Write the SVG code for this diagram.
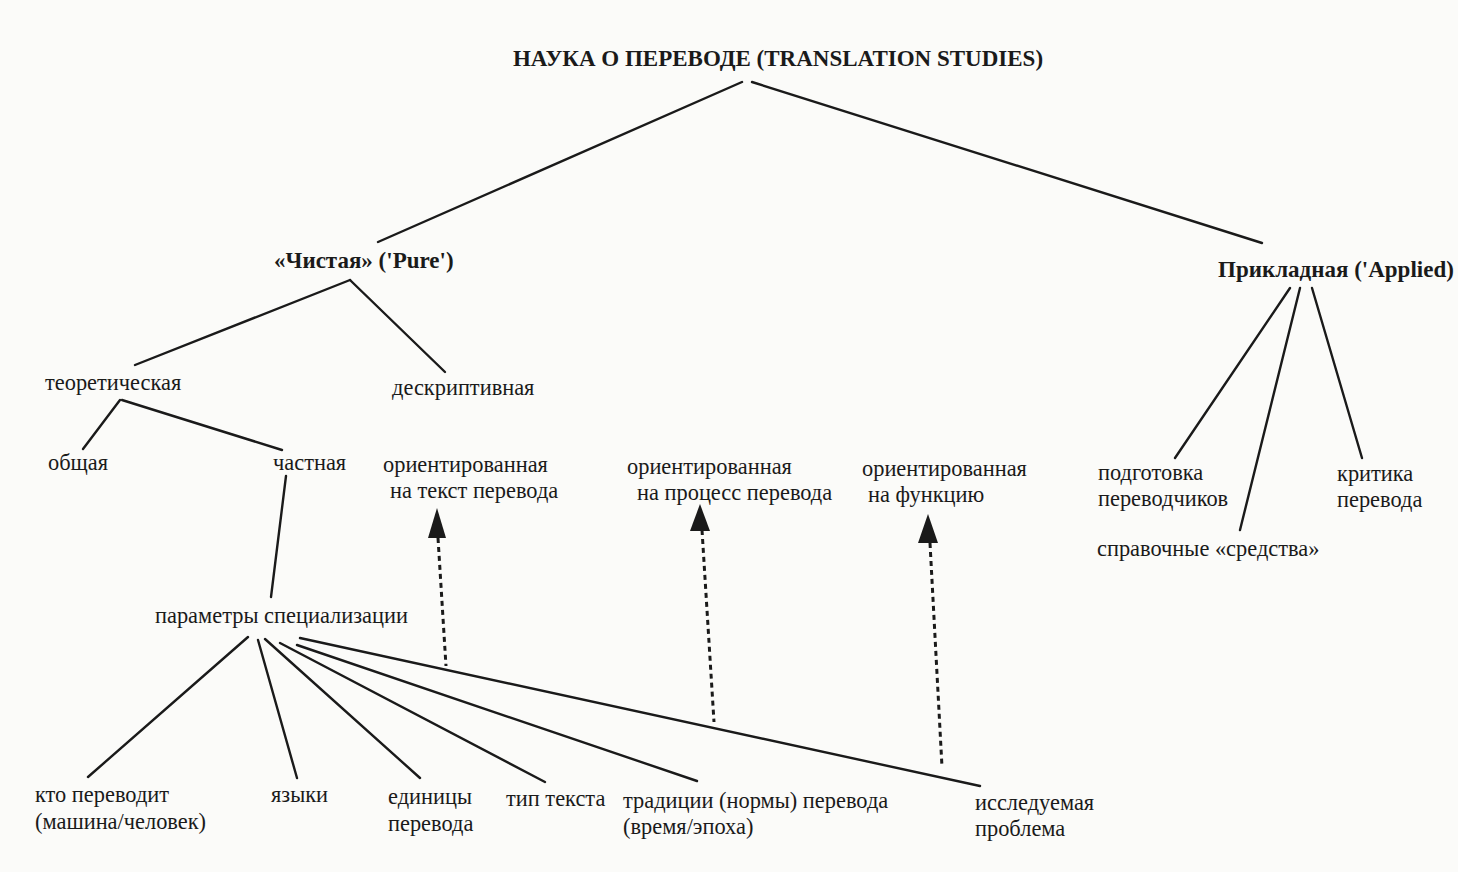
<svg xmlns="http://www.w3.org/2000/svg" width="1458" height="872" viewBox="0 0 1458 872">
<defs>
<style>
.t{font-family:"Liberation Serif","Times New Roman",serif;font-size:22.4px;fill:#1a1a1a}
.b{font-family:"Liberation Serif","Times New Roman",serif;font-size:23px;font-weight:bold;fill:#1a1a1a}
.l{stroke:#1a1a1a;stroke-width:2.4;fill:none;stroke-linecap:round}
.d{stroke:#1a1a1a;stroke-width:3;fill:none;stroke-dasharray:5 4}
.h{fill:#1a1a1a}
</style>
</defs>
<rect width="1458" height="872" fill="#fbfbf9"/>
<g id="connectors">
<line class="l" x1="742" y1="82" x2="378" y2="242"/>
<line class="l" x1="752" y1="82" x2="1262" y2="243"/>
<line class="l" x1="350" y1="280" x2="135" y2="365"/>
<line class="l" x1="350" y1="280" x2="445" y2="372"/>
<line class="l" x1="120" y1="400" x2="83" y2="449"/>
<line class="l" x1="122" y1="400" x2="282" y2="450"/>
<line class="l" x1="286" y1="476" x2="271" y2="597"/>
<line class="l" x1="1290" y1="288" x2="1175" y2="458"/>
<line class="l" x1="1300" y1="288" x2="1240" y2="530"/>
<line class="l" x1="1312" y1="288" x2="1362" y2="458"/>
<line class="l" x1="248" y1="637" x2="88" y2="777"/>
<line class="l" x1="258" y1="640" x2="297" y2="778"/>
<line class="l" x1="265" y1="639" x2="420" y2="778"/>
<line class="l" x1="280" y1="643" x2="545" y2="782"/>
<line class="l" x1="297" y1="645" x2="697" y2="781"/>
<line class="l" x1="300" y1="638" x2="980" y2="786"/>
<line class="d" x1="438" y1="538" x2="446" y2="666"/>
<line class="d" x1="702" y1="530" x2="714" y2="722"/>
<line class="d" x1="930" y1="543" x2="942" y2="767"/>
<polygon class="h" points="437,508 446,538 428,538"/>
<polygon class="h" points="700,504 710,531 690,531"/>
<polygon class="h" points="928,514 938,543 918,543"/>
</g>
<g id="n-root"><text class="b" x="778" y="66" text-anchor="middle">НАУКА О ПЕРЕВОДЕ (TRANSLATION STUDIES)</text></g>
<g id="n-pure"><text class="b" x="274" y="268">«Чистая» ('Pure')</text></g>
<g id="n-applied"><text class="b" x="1218" y="277">Прикладная ('Applied)</text></g>
<g id="n-theor"><text class="t" x="45" y="390">теоретическая</text></g>
<g id="n-descr"><text class="t" x="392" y="395">дескриптивная</text></g>
<g id="n-general"><text class="t" x="48" y="470">общая</text></g>
<g id="n-partial"><text class="t" x="273" y="470">частная</text></g>
<g id="n-product"><text class="t" x="383" y="472">ориентированная</text><text class="t" x="390" y="498">на текст перевода</text></g>
<g id="n-process"><text class="t" x="627" y="474">ориентированная</text><text class="t" x="637" y="500">на процесс перевода</text></g>
<g id="n-function"><text class="t" x="862" y="476">ориентированная</text><text class="t" x="868" y="502">на функцию</text></g>
<g id="n-training"><text class="t" x="1098" y="480">подготовка</text><text class="t" x="1098" y="506">переводчиков</text></g>
<g id="n-critique"><text class="t" x="1337" y="481">критика</text><text class="t" x="1337" y="507">перевода</text></g>
<g id="n-aids"><text class="t" x="1097" y="556">справочные «средства»</text></g>
<g id="n-params"><text class="t" x="155" y="623">параметры специализации</text></g>
<g id="n-who"><text class="t" x="35" y="802">кто переводит</text><text class="t" x="35" y="829">(машина/человек)</text></g>
<g id="n-lang"><text class="t" x="271" y="802">языки</text></g>
<g id="n-units"><text class="t" x="388" y="804">единицы</text><text class="t" x="388" y="831">перевода</text></g>
<g id="n-type"><text class="t" x="506" y="806">тип текста</text></g>
<g id="n-trad"><text class="t" x="623" y="808">традиции (нормы) перевода</text><text class="t" x="623" y="834">(время/эпоха)</text></g>
<g id="n-problem"><text class="t" x="975" y="810">исследуемая</text><text class="t" x="975" y="836">проблема</text></g>
</svg>
